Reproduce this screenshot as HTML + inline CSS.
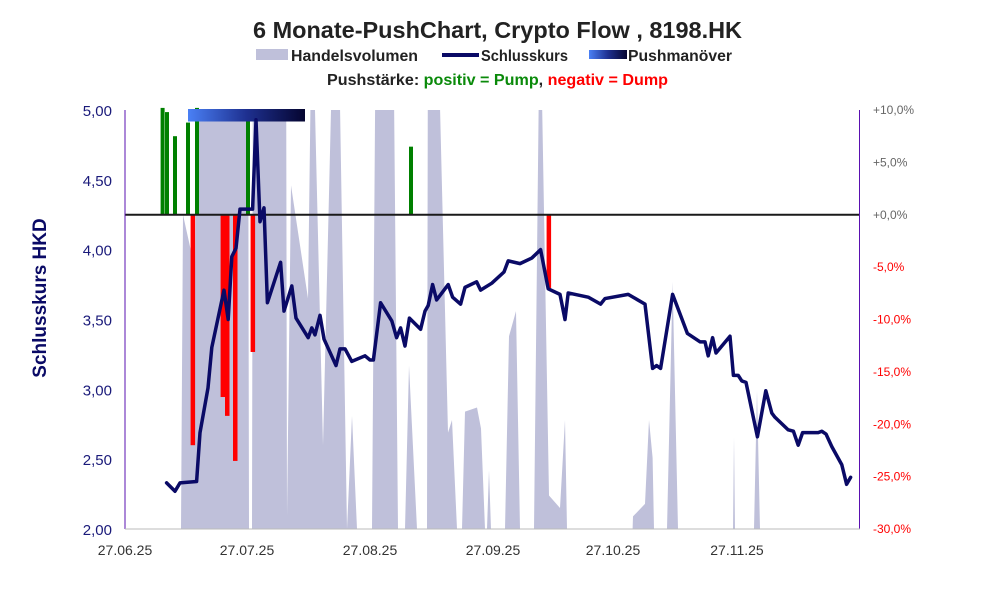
<!DOCTYPE html>
<html><head><meta charset="utf-8"><style>
body{margin:0;background:#fff;width:991px;height:593px;overflow:hidden;font-family:"Liberation Sans",sans-serif}
</style></head><body>
<svg id="chart" width="991" height="593" xmlns="http://www.w3.org/2000/svg" font-family="Liberation Sans, sans-serif">
<defs>
<clipPath id="plotclip"><rect x="125" y="110" width="735" height="419"/></clipPath>
<linearGradient id="pushgrad" x1="0" x2="1" y1="0" y2="0"><stop offset="0" stop-color="#4a80f5"/><stop offset="0.5" stop-color="#1e3090"/><stop offset="1" stop-color="#050530"/></linearGradient>
</defs>
<text x="253" y="38" textLength="489" lengthAdjust="spacingAndGlyphs" font-size="23" font-weight="bold" fill="#222">6 Monate-PushChart, Crypto Flow , 8198.HK</text>
<g font-size="15.5" font-weight="bold" fill="#222">
<rect x="256" y="49" width="32" height="11" fill="#bfc0da"/>
<text x="291" y="61" textLength="127" lengthAdjust="spacingAndGlyphs">Handelsvolumen</text>
<rect x="442" y="53" width="37" height="4" fill="#0a0a66"/>
<text x="481" y="61" textLength="87" lengthAdjust="spacingAndGlyphs">Schlusskurs</text>
<rect x="589" y="50" width="38" height="9" fill="url(#pushgrad)"/>
<text x="628" y="61" textLength="104" lengthAdjust="spacingAndGlyphs">Pushmanöver</text>
</g>
<text x="327" y="85" textLength="341" lengthAdjust="spacingAndGlyphs" font-size="15.5" font-weight="bold"><tspan fill="#222">Pushstärke:  </tspan><tspan fill="#0a8a0a">positiv = Pump</tspan><tspan fill="#222">,  </tspan><tspan fill="#ff0000">negativ = Dump</tspan></text>
<text transform="translate(46,298) rotate(-90)" text-anchor="middle" font-size="19" font-weight="bold" fill="#0a0a66">Schlusskurs HKD</text>
<g id="vol" clip-path="url(#plotclip)"></g>
<g id="bars"></g>
<g id="axes"></g>
<g id="line" clip-path="url(#plotclip)"></g>
</svg>
<script>
const priceDays=[10.4,12.5,13.75,17.9,18.75,20.75,21.7,24.75,25.8,26.7,27.75,28.75,31.9,32.75,33.75,34.75,35.6,38.9,39.75,41.7,42.75,45.8,46.7,47.5,48.75,49.75,52.75,53.75,55,56.7,60,61.25,62.1,63.9,66.7,67.9,68.9,70,71.1,73.9,75,75.8,76.9,77.9,80.8,81.9,83.9,85,87.9,88.9,91.7,94.75,95.8,98.75,101.7,103.9,105.8,108.75,110,110.8,115.8,118.9,120,125.8,130,131.9,132.9,133.9,136.9,138.75,140.6,143.75,145,145.8,146.9,147.75,151.25,152.1,153.3,154.2,155.25,158.1,160.2,161.7,162.5,165.8,167.1,168.3,169.4,173.3,174.2,175.25,176.7,179.2,180.4,181.4];
const priceValues=[2.33,2.27,2.33,2.34,2.69,3.01,3.30,3.71,3.50,3.95,4.01,4.29,4.29,4.93,4.20,4.30,3.62,3.91,3.56,3.74,3.51,3.37,3.44,3.39,3.53,3.36,3.17,3.29,3.29,3.20,3.24,3.21,3.21,3.62,3.49,3.37,3.44,3.31,3.51,3.43,3.56,3.60,3.75,3.64,3.75,3.66,3.61,3.73,3.77,3.71,3.76,3.84,3.92,3.90,3.94,4.00,3.72,3.68,3.50,3.69,3.66,3.61,3.65,3.68,3.61,3.15,3.17,3.15,3.68,3.54,3.40,3.34,3.34,3.24,3.37,3.26,3.38,3.10,3.10,3.06,3.05,2.66,2.99,2.83,2.80,2.71,2.70,2.60,2.69,2.69,2.70,2.68,2.59,2.46,2.32,2.37];
const volDays=[14,14.5,17.5,18,30.75,31,31.75,32,40.25,40.5,41.5,45.75,46.75,49.5,52.25,53.25,55.5,56.75,58,61.75,62.75,67,68.25,70,71,73,75.5,75.75,78,80.75,81.75,83,84.25,85,88,89,90,90.5,91,91.5,95,96,97.75,98.75,102.25,103.75,106,108.75,110,110.5,126.9,127,130,131,131.9,132.25,135.5,136.9,138.25,152,152.25,152.5,157.25,158,158.75];
const volValues=[0,75,62,130,130,0,0,130,130,3,82,55,130,20,130,130,0,27,0,0,130,130,0,0,39,0,0,130,130,23,26,0,0,28,29,24,0,0,14,0,0,46,52,0,0,130,8,5,26,0,0,3,6,26,17,0,0,59,0,0,22,0,0,33,0];
const pumpDays=[9.4,10.5,12.5,15.75,18,30.75,71.5];
const pumpValues=[10.2,9.8,7.5,8.8,10.2,9.2,6.5];
const dumpDays=[16.9,24.4,25.5,27.5,31.9,105.9];
const dumpValues=[-22,-17.4,-19.2,-23.5,-13.1,-7.0];
const pushStart=15.75, pushEnd=45;
const leftTicks=["2,00","2,50","3,00","3,50","4,00","4,50","5,00"];
const leftTickValues=[2,2.5,3,3.5,4,4.5,5];
const rightTicks=["-30,0%","-25,0%","-20,0%","-15,0%","-10,0%","-5,0%","+0,0%","+5,0%","+10,0%"];
const rightTickValues=[-30,-25,-20,-15,-10,-5,0,5,10];
const xTicks=["27.06.25","27.07.25","27.08.25","27.09.25","27.10.25","27.11.25"];
const xTickDays=[0,30.5,61.25,92,122,153];

const X0=125,X1=860,Y0=110,Y1=529;
const x=d=>X0+d*4.0;
const yP=p=>Y1-(p-2)/3*(Y1-Y0);
const yR=v=>Y1-(v+30)/40*(Y1-Y0);
const yV=v=>Y1-v/100*(Y1-Y0);
const NS="http://www.w3.org/2000/svg";
function mk(tag,attrs,parent){const e=document.createElementNS(NS,tag);for(const k in attrs)e.setAttribute(k,attrs[k]);parent.appendChild(e);return e;}

const vol=document.getElementById('vol');
let pts=volDays.map((d,i)=>x(d)+","+yV(volValues[i])).join(" ");
pts=x(volDays[0])+","+Y1+" "+pts+" "+x(volDays[volDays.length-1])+","+Y1;
const va=mk('polygon',{points:pts,fill:'#bfc0da'},vol);



const bars=document.getElementById('bars');
pumpDays.forEach((d,i)=>{const r=mk('rect',{x:x(d)-2,y:yR(pumpValues[i]),width:4,height:yR(0)-yR(pumpValues[i]),fill:'#008000'},bars);

});
dumpDays.forEach((d,i)=>{const r=mk('rect',{x:x(d)-2,y:yR(0),width:4.5,height:yR(dumpValues[i])-yR(0),fill:'#ff0000'},bars);

});
const pb=mk('rect',{x:x(pushStart),y:Y0-1,width:x(pushEnd)-x(pushStart),height:12.5,fill:'url(#pushgrad)'},bars);



const ax=document.getElementById('axes');
const zl=mk('line',{x1:X0,x2:X1,y1:yR(0),y2:yR(0),stroke:'#1a1a1a','stroke-width':2},ax);


const la=mk('line',{x1:X0,x2:X0,y1:Y0,y2:Y1,stroke:'#5a10b0','stroke-width':1},ax);


const ra=mk('line',{x1:X1-0.5,x2:X1-0.5,y1:Y0,y2:Y1,stroke:'#5a10b0','stroke-width':1},ax);


const ba=mk('line',{x1:X0,x2:X1,y1:Y1,y2:Y1,stroke:'#bbbbbb','stroke-width':1},ax);


leftTicks.forEach((t,i)=>{const e=mk('text',{x:112,y:yP(leftTickValues[i])+6,'text-anchor':'end','font-size':15,fill:'#1a1a7a'},ax);e.textContent=t;

});
rightTicks.forEach((t,i)=>{const e=mk('text',{x:873,y:yR(rightTickValues[i])+4,'font-size':12,fill:rightTickValues[i]<0?'#ff0000':'#666666'},ax);e.textContent=t;

});
xTicks.forEach((t,i)=>{const e=mk('text',{x:x(xTickDays[i]),y:555,'text-anchor':'middle','font-size':14,fill:'#333'},ax);e.textContent=t;

});

const ln=document.getElementById('line');
const pl=mk('polyline',{points:priceDays.map((d,i)=>x(d)+","+yP(priceValues[i])).join(" "),fill:'none',stroke:'#0a0a66','stroke-width':3.5,'stroke-linejoin':'round','stroke-linecap':'round'},ln);


</script>
</body></html>
